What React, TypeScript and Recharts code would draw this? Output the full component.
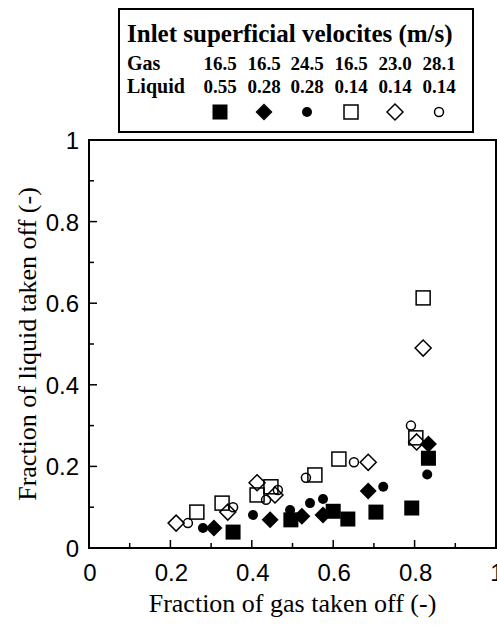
import React from 'react';
import { ScatterChart, Scatter, XAxis, YAxis, ReferenceArea, Legend } from 'recharts';

// ---------- data ----------
const axisTicks = [0, 0.1, 0.2, 0.3, 0.4, 0.5, 0.6, 0.7, 0.8, 0.9, 1];

const legendTitle = 'Inlet superficial velocites (m/s)';
const gasVelocities = ['16.5', '16.5', '24.5', '16.5', '23.0', '28.1'];
const liquidVelocities = ['0.55', '0.28', '0.28', '0.14', '0.14', '0.14'];

// gas 16.5, liquid 0.55 (filled square)
const filledSquare = [
  { x: 0.354, y: 0.039 },
  { x: 0.496, y: 0.069 },
  { x: 0.6, y: 0.09 },
  { x: 0.636, y: 0.071 },
  { x: 0.705, y: 0.088 },
  { x: 0.793, y: 0.098 },
  { x: 0.834, y: 0.22 },
];
// gas 16.5, liquid 0.28 (filled diamond)
const filledDiamond = [
  { x: 0.307, y: 0.049 },
  { x: 0.445, y: 0.069 },
  { x: 0.523, y: 0.078 },
  { x: 0.575, y: 0.081 },
  { x: 0.686, y: 0.14 },
  { x: 0.834, y: 0.255 },
];
// gas 24.5, liquid 0.28 (filled circle)
const filledCircle = [
  { x: 0.28, y: 0.049 },
  { x: 0.403, y: 0.081 },
  { x: 0.494, y: 0.093 },
  { x: 0.543, y: 0.11 },
  { x: 0.575, y: 0.12 },
  { x: 0.723, y: 0.15 },
  { x: 0.831, y: 0.18 },
];
// gas 16.5, liquid 0.14 (open square)
const openSquare = [
  { x: 0.265, y: 0.088 },
  { x: 0.327, y: 0.11 },
  { x: 0.413, y: 0.13 },
  { x: 0.447, y: 0.15 },
  { x: 0.555, y: 0.179 },
  { x: 0.614, y: 0.218 },
  { x: 0.803, y: 0.27 },
  { x: 0.821, y: 0.613 },
];
// gas 23.0, liquid 0.14 (open diamond)
const openDiamond = [
  { x: 0.214, y: 0.061 },
  { x: 0.341, y: 0.088 },
  { x: 0.413, y: 0.16 },
  { x: 0.457, y: 0.13 },
  { x: 0.686, y: 0.21 },
  { x: 0.805, y: 0.26 },
  { x: 0.821, y: 0.49 },
];
// gas 28.1, liquid 0.14 (open circle)
const openCircle = [
  { x: 0.243, y: 0.061 },
  { x: 0.354, y: 0.1 },
  { x: 0.435, y: 0.118 },
  { x: 0.464, y: 0.142 },
  { x: 0.533, y: 0.172 },
  { x: 0.651, y: 0.21 },
  { x: 0.791, y: 0.3 },
];

// ---------- marker drawing ----------
type Kind = 'fsq' | 'fdi' | 'fci' | 'osq' | 'odi' | 'oci';

const drawMarker = (kind: Kind, cx: number, cy: number, key?: string) => {
  switch (kind) {
    case 'fsq':
      return <rect key={key} x={cx - 7.5} y={cy - 7.5} width={15} height={15} fill="#000" />;
    case 'fdi':
      return <polygon key={key} points={`${cx},${cy - 8.5} ${cx + 8.5},${cy} ${cx},${cy + 8.5} ${cx - 8.5},${cy}`} fill="#000" />;
    case 'fci':
      return <circle key={key} cx={cx} cy={cy} r={5} fill="#000" />;
    case 'osq':
      return <rect key={key} x={cx - 7} y={cy - 7} width={14} height={14} fill="none" stroke="#000" strokeWidth={1.5} />;
    case 'odi':
      return <polygon key={key} points={`${cx},${cy - 8} ${cx + 8},${cy} ${cx},${cy + 8} ${cx - 8},${cy}`} fill="none" stroke="#000" strokeWidth={1.5} />;
    case 'oci':
      return <circle key={key} cx={cx} cy={cy} r={4.5} fill="none" stroke="#000" strokeWidth={1.5} />;
  }
  return null;
};

const shapeOf = (kind: Kind) => (props: any) => drawMarker(kind, props.cx, props.cy);

const seriesList: { name: string; kind: Kind; data: { x: number; y: number }[] }[] = [
  { name: 'fsq', kind: 'fsq', data: filledSquare },
  { name: 'fdi', kind: 'fdi', data: filledDiamond },
  { name: 'fci', kind: 'fci', data: filledCircle },
  { name: 'osq', kind: 'osq', data: openSquare },
  { name: 'odi', kind: 'odi', data: openDiamond },
  { name: 'oci', kind: 'oci', data: openCircle },
];

// ---------- ticks ----------
const isMajor = (v: number) => Math.round(v * 10) % 2 === 0;
const fmt = (v: number) => (v === 0 ? '0' : v === 1 ? '1' : v.toFixed(1));
const tickFont = { fontFamily: '"Liberation Sans", Arial, sans-serif', fontSize: 24, fill: '#000' };

const XTick = (props: any) => {
  const { x, y, payload } = props;
  const v = payload.value as number;
  const major = isMajor(v);
  return (
    <g>
      <line x1={x} x2={x} y1={y} y2={y - (major ? 8 : 5)} stroke="#000" strokeWidth={1.5} />
      {major && (
        <text x={x + 1} y={y + 33} textAnchor="middle" {...tickFont}>
          {fmt(v)}
        </text>
      )}
    </g>
  );
};

const YTick = (props: any) => {
  const { x, y, payload } = props;
  const v = payload.value as number;
  const major = isMajor(v);
  return (
    <g>
      <line x1={x} x2={x + (major ? 8 : 5)} y1={y} y2={y} stroke="#000" strokeWidth={1.5} />
      {major && (
        <text x={x - 10} y={y + 9} textAnchor="end" {...tickFont}>
          {fmt(v)}
        </text>
      )}
    </g>
  );
};

const serif = '"Liberation Serif", "Times New Roman", serif';

// ---------- legend ----------
const legendCols = [102, 146, 189, 233, 277, 321];

const LegendBox = () => (
  <svg width={356} height={125} style={{ display: 'block' }}>
    <rect x={1} y={1} width={354} height={123} fill="#fff" stroke="#000" strokeWidth={2} />
    <text x={9} y={34} fontFamily={serif} fontSize={25} fontWeight="bold" fill="#000">
      {legendTitle}
    </text>
    <text x={9} y={62} fontFamily={serif} fontSize={20} fontWeight="bold" fill="#000">
      Gas
    </text>
    <text x={9} y={85} fontFamily={serif} fontSize={20} fontWeight="bold" fill="#000">
      Liquid
    </text>
    {gasVelocities.map((g, i) => (
      <text key={'g' + i} x={legendCols[i]} y={62} textAnchor="middle" fontFamily={serif} fontSize={19} fontWeight="bold" fill="#000">
        {g}
      </text>
    ))}
    {liquidVelocities.map((l, i) => (
      <text key={'l' + i} x={legendCols[i]} y={85} textAnchor="middle" fontFamily={serif} fontSize={19} fontWeight="bold" fill="#000">
        {l}
      </text>
    ))}
    {seriesList.map((s, i) => drawMarker(s.kind, legendCols[i], 104, 'm' + i))}
  </svg>
);

export default function App() {
  return (
    <div style={{ position: 'absolute', left: 0, top: 0 }}>
      <ScatterChart width={497} height={625} margin={{ top: 140, right: 1, bottom: 0, left: 0 }}>
        <XAxis
          type="number"
          dataKey="x"
          domain={[0, 1]}
          ticks={axisTicks}
          interval={0}
          tickSize={0}
          tickMargin={0}
          height={77}
          axisLine={{ stroke: '#000', strokeWidth: 2 }}
          tickLine={false}
          tick={<XTick />}
          label={(p: any) => {
            const vb = p.viewBox || { x: 89, y: 548, width: 407 };
            return (
              <text x={vb.x + vb.width / 2} y={vb.y + 64} textAnchor="middle" fontFamily={serif} fontSize={26} fill="#000">
                Fraction of gas taken off (-)
              </text>
            );
          }}
        />
        <YAxis
          type="number"
          dataKey="y"
          domain={[0, 1]}
          ticks={axisTicks}
          interval={0}
          tickSize={0}
          tickMargin={0}
          width={89}
          axisLine={{ stroke: '#000', strokeWidth: 2 }}
          tickLine={false}
          tick={<YTick />}
          label={(p: any) => {
            const vb = p.viewBox || { x: 0, y: 140, height: 408 };
            const cy = vb.y + vb.height / 2;
            return (
              <text x={36} y={cy} transform={`rotate(-90, 36, ${cy})`} textAnchor="middle" fontFamily={serif} fontSize={26} fill="#000">
                Fraction of liquid taken off (-)
              </text>
            );
          }}
        />
        <ReferenceArea x1={0} x2={1} y1={0} y2={1} fill="none" fillOpacity={0} stroke="#000" strokeWidth={2} />
        {seriesList.map((s) => (
          <Scatter key={s.name} name={s.name} data={s.data} shape={shapeOf(s.kind)} isAnimationActive={false} />
        ))}
        <Legend
          layout="horizontal"
          verticalAlign="middle"
          align="center"
          content={() => <LegendBox />}
          wrapperStyle={{ position: 'absolute', left: 118, top: 8, width: 356, height: 125 }}
        />
      </ScatterChart>
    </div>
  );
}
